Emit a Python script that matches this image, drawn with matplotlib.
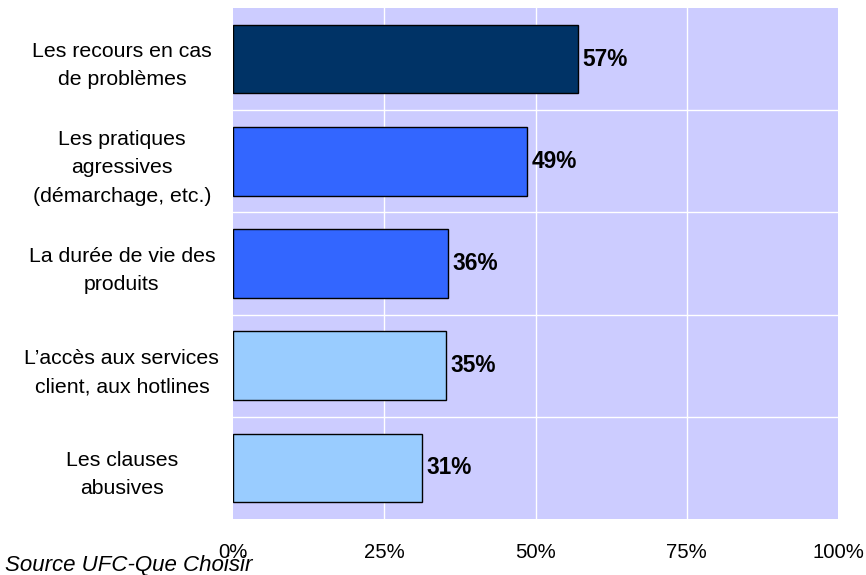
import matplotlib.pyplot as plt
import numpy as np


CATEGORIES = [
	"Les recours en cas\nde problèmes",
	"Les pratiques\nagressives\n(démarchage, etc.)",
	"La durée de vie des\nproduits",
	"L\u2019accès aux services\nclient, aux hotlines",
	"Les clauses\nabusives",
]
VALUES = [57.0, 48.6, 35.5, 35.2, 31.2]
VALUE_LABELS = ["57%", "49%", "36%", "35%", "31%"]
BAR_COLORS = ["#003366", "#3366FF", "#3366FF", "#99CCFF", "#99CCFF"]
X_TICKS = [0, 25, 50, 75, 100]
X_TICK_LABELS = ["0%", "25%", "50%", "75%", "100%"]
SOURCE_TEXT = "Source UFC-Que Choisir"


def main():
	plt.rcParams["font.family"] = ["Liberation Sans", "DejaVu Sans"]

	fig = plt.figure(figsize=(8.66, 5.75), dpi=100)
	ax = fig.add_axes([233 / 866, 1 - 519 / 575, (838 - 233) / 866, (519 - 8) / 575])
	ax.set_facecolor("#CCCCFF")

	positions = np.arange(len(CATEGORIES))
	ax.barh(
		positions,
		VALUES,
		height=0.67,
		color=BAR_COLORS,
		edgecolor="black",
		linewidth=1.0,
		zorder=3,
	)

	for pos, value, label in zip(positions, VALUES, VALUE_LABELS):
		ax.text(
			value + 0.7,
			pos,
			label,
			va="center",
			ha="left",
			fontsize=16.3,
			fontweight="bold",
			zorder=4,
		)

	ax.set_xlim(0, 100)
	ax.set_ylim(len(CATEGORIES) - 0.5, -0.5)

	# white grid: vertical at the percent ticks, horizontal between categories
	for tick in X_TICKS[1:-1]:
		ax.axvline(tick, color="white", linewidth=1.0, zorder=1)
	for boundary in np.arange(0.5, len(CATEGORIES) - 0.5, 1.0):
		ax.axhline(boundary, color="white", linewidth=1.0, zorder=1)

	ax.set_yticks(positions)
	ax.set_yticklabels(CATEGORIES, fontsize=15.3, ha="center", linespacing=1.62)
	ax.tick_params(axis="y", length=0, pad=80)

	ax.set_xticks(X_TICKS)
	ax.set_xticklabels(X_TICK_LABELS, fontsize=14.6)
	ax.tick_params(axis="x", length=0, pad=17)

	for spine in ax.spines.values():
		spine.set_visible(False)

	fig.text(5 / 866, 1 - 566 / 575, SOURCE_TEXT, fontsize=16, style="italic", va="center", ha="left")

	fig.savefig("out.png", dpi=100, facecolor="white")
	plt.close(fig)


if __name__ == "__main__":
	main()
